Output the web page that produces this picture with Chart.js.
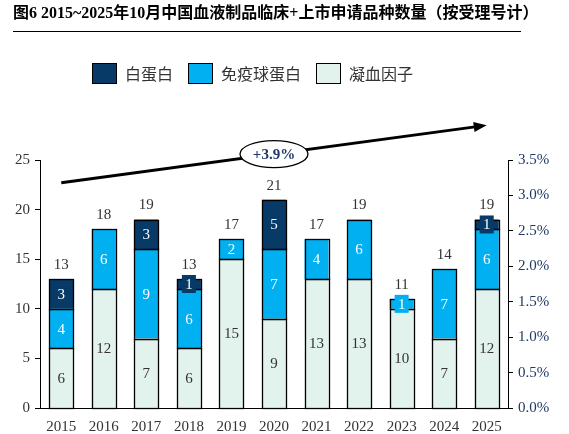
<!DOCTYPE html>
<html>
<head>
<meta charset="utf-8">
<script src="https://cdn.jsdelivr.net/npm/chart.js@4.4.1/dist/chart.umd.min.js"></script>
<style>
  html, body { margin: 0; padding: 0; background: #fff; }
  #wrap { position: relative; width: 569px; height: 434px; }
  #title { position: absolute; left: 13px; top: 0; width: 508px; height: 31px;
    border-bottom: 1.5px solid #000; font: bold 16px "Liberation Serif", "Noto Sans CJK SC", serif;
    line-height: 26px; white-space: nowrap; color: #000; }
  canvas { position: absolute; left: 0; top: 0; }
</style>
</head>
<body>
<div id="wrap">
  <canvas id="c" width="569" height="434"></canvas>
  <div id="title">图6 2015~2025年10月中国血液制品临床+上市申请品种数量（按受理号计）</div>
</div>
<script>
const years = ['2015','2016','2017','2018','2019','2020','2021','2022','2023','2024','2025'];
const albumin = [3, 0, 3, 1, 0, 5, 0, 0, 0, 0, 1];          // 白蛋白
const immunoglobulin = [4, 6, 9, 6, 2, 7, 4, 6, 1, 7, 6];    // 免疫球蛋白
const coagulation = [6, 12, 7, 6, 15, 9, 13, 13, 10, 7, 12]; // 凝血因子
const leftTicks = [0, 5, 10, 15, 20, 25];
const rightTicks = [0, 0.005, 0.01, 0.015, 0.02, 0.025, 0.03, 0.035];
const growthLabel = '+3.9%';
const trendStart = 22.7, trendEnd = 28.5;

const C_DARK = '#073a66', C_BLUE = '#00b0f0', C_LIGHT = '#e2f2ec';
const NUM_FONT = '15px "Liberation Serif", serif';
const totals = years.map((_, i) => albumin[i] + immunoglobulin[i] + coagulation[i]);

const legendItems = [
  { label: '白蛋白', color: C_DARK },
  { label: '免疫球蛋白', color: C_BLUE },
  { label: '凝血因子', color: C_LIGHT }
];

const overlay = {
  id: 'overlay',
  afterDatasetsDraw(chart) {
    const ctx = chart.ctx;
    const y = chart.scales.y;
    ctx.save();
    // crisp segment outlines
    ctx.strokeStyle = '#000';
    ctx.lineWidth = 1.3;
    chart.data.datasets.forEach((ds, di) => {
      chart.getDatasetMeta(di).data.forEach((el, i) => {
        if (!ds.data[i]) return;
        const w = el.width;
        const l = Math.round(el.x - w / 2) + 0.5, r = Math.round(el.x + w / 2) + 0.5;
        const t = Math.round(el.y) + 0.5, b = Math.round(el.base) + 0.5;
        ctx.strokeRect(l, t, r - l, b - t);
      });
    });
    ctx.font = NUM_FONT;
    ctx.textAlign = 'center';
    ctx.textBaseline = 'middle';
    chart.data.datasets.forEach((ds, di) => {
      const meta = chart.getDatasetMeta(di);
      meta.data.forEach((el, i) => {
        const v = ds.data[i];
        if (!v) return;
        const cy = (el.y + el.base) / 2;
        if (v === 1) {
          ctx.fillStyle = ds.backgroundColor;
          ctx.fillRect(el.x - 7, cy - 9, 14, 18);
        }
        ctx.fillStyle = ds.backgroundColor === C_LIGHT ? '#333' : '#fff';
        ctx.fillText(String(v), el.x, cy + 1);
      });
    });
    const m0 = chart.getDatasetMeta(0);
    ctx.fillStyle = '#333';
    totals.forEach((t, i) => {
      ctx.fillText(String(t), m0.data[i].x, y.getPixelForValue(t) - 14);
    });
    ctx.restore();
  },
  afterDraw(chart) {
    const ctx = chart.ctx;
    const x = chart.scales.x, y = chart.scales.y;
    ctx.save();
    ctx.font = '16px "Noto Sans CJK SC", sans-serif';
    ctx.textBaseline = 'middle';
    ctx.textAlign = 'left';
    let lx = 92;
    const ly = 63, bw = 25, bh = 21;
    legendItems.forEach(it => {
      ctx.fillStyle = it.color;
      ctx.fillRect(lx, ly, bw, bh);
      ctx.strokeStyle = '#000';
      ctx.lineWidth = 1;
      ctx.strokeRect(lx + 0.5, ly + 0.5, bw - 1, bh - 1);
      ctx.fillStyle = '#333';
      const tx = lx + bw + 8;
      ctx.fillText(it.label, tx, ly + bh / 2);
      lx = tx + ctx.measureText(it.label).width + 15;
    });
    const x0 = x.getPixelForValue(0), y0 = y.getPixelForValue(trendStart);
    const x1 = x.getPixelForValue(years.length - 1), y1 = y.getPixelForValue(trendEnd);
    const ang = Math.atan2(y1 - y0, x1 - x0);
    ctx.strokeStyle = '#000';
    ctx.lineWidth = 3;
    ctx.beginPath();
    ctx.moveTo(x0, y0);
    ctx.lineTo(x1 - 10 * Math.cos(ang), y1 - 10 * Math.sin(ang));
    ctx.stroke();
    ctx.fillStyle = '#000';
    ctx.beginPath();
    ctx.moveTo(x1, y1);
    ctx.lineTo(x1 - 13 * Math.cos(ang) + 5 * Math.sin(ang), y1 - 13 * Math.sin(ang) - 5 * Math.cos(ang));
    ctx.lineTo(x1 - 13 * Math.cos(ang) - 5 * Math.sin(ang), y1 - 13 * Math.sin(ang) + 5 * Math.cos(ang));
    ctx.closePath();
    ctx.fill();
    const ex = x.getPixelForValue(5);
    const ey = y0 + (y1 - y0) * (ex - x0) / (x1 - x0);
    ctx.beginPath();
    ctx.ellipse(ex, ey, 34, 13.5, 0, 0, Math.PI * 2);
    ctx.fillStyle = '#fff';
    ctx.fill();
    ctx.lineWidth = 1.3;
    ctx.stroke();
    ctx.font = 'bold 15px "Liberation Serif", serif';
    ctx.textAlign = 'center';
    ctx.fillStyle = '#1f3864';
    ctx.fillText(growthLabel, ex, ey + 1);
    ctx.restore();
  }
};

new Chart(document.getElementById('c'), {
  type: 'bar',
  data: {
    labels: years,
    datasets: [
      { label: '凝血因子', data: coagulation.map(v => v || null), backgroundColor: C_LIGHT },
      { label: '免疫球蛋白', data: immunoglobulin.map(v => v || null), backgroundColor: C_BLUE },
      { label: '白蛋白', data: albumin.map(v => v || null), backgroundColor: C_DARK }
    ].map(d => Object.assign(d, { borderWidth: 0,
      barPercentage: 0.565, categoryPercentage: 1, yAxisID: 'y' }))
  },
  options: {
    responsive: false,
    devicePixelRatio: 1,
    animation: false,
    layout: { padding: { top: 160, left: 0, right: 0, bottom: 0 } },
    plugins: { legend: { display: false }, title: { display: false }, tooltip: { enabled: false } },
    scales: {
      x: {
        stacked: true,
        grid: { display: false },
        border: { display: true, color: '#000', width: 1 },
        ticks: { color: '#333', font: { family: '"Liberation Serif", serif', size: 15 }, padding: 2, maxRotation: 0 },
        afterFit: s => { s.height = 26; }
      },
      y: {
        stacked: true,
        position: 'left',
        min: 0, max: 25,
        afterBuildTicks: s => { s.ticks = leftTicks.map(v => ({ value: v })); },
        grid: { display: true, drawOnChartArea: false, drawTicks: true, tickLength: 5, color: '#000' },
        border: { display: true, color: '#000', width: 1 },
        ticks: { color: '#333', font: { family: '"Liberation Serif", serif', size: 15 }, padding: 5 },
        afterFit: s => { s.width = 40; }
      },
      y1: {
        position: 'right',
        min: 0, max: 0.035,
        afterBuildTicks: s => { s.ticks = rightTicks.map(v => ({ value: v })); },
        grid: { display: true, drawOnChartArea: false, drawTicks: true, tickLength: 5, color: '#000' },
        border: { display: true, color: '#000', width: 1 },
        ticks: { color: '#1f3864', font: { family: '"Liberation Serif", serif', size: 15 }, padding: 5,
          callback: v => (v * 100).toFixed(1) + '%' },
        afterFit: s => { s.width = 61; }
      }
    }
  },
  plugins: [overlay]
});
</script>
</body>
</html>
